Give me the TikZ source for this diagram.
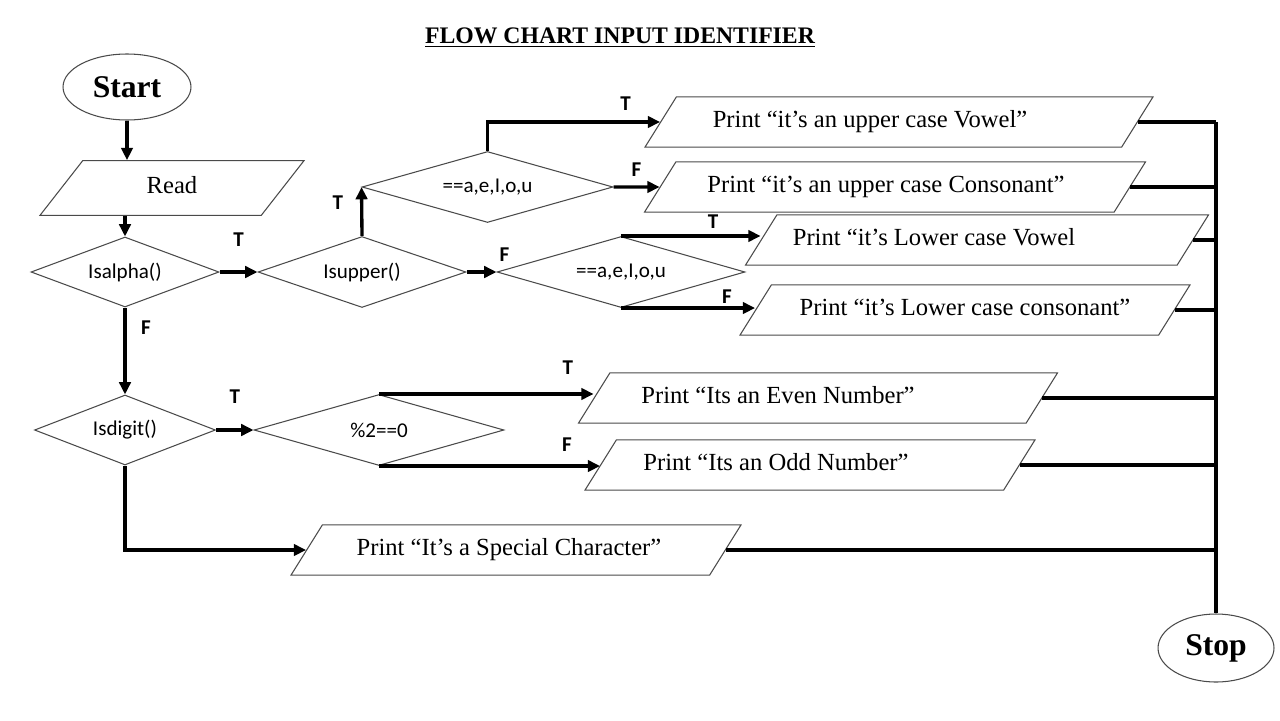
\documentclass[tikz,border=0pt]{standalone}
\usepackage{fontspec}
\setmainfont{Liberation Serif}
\setsansfont{Carlito}
\usetikzlibrary{shapes.geometric, arrows.meta, positioning, calc}
\usepackage{xcolor}
\definecolor{Ink}{HTML}{000000}
\definecolor{Edge}{HTML}{4A4A4A}
% room to the right of a print text, so the text sits left of centre
\newcommand{\padr}[1]{\hspace*{#1}}

\begin{document}
\begin{tikzpicture}[
            x=0.02cm, y=-0.02cm,
            term/.style={ellipse, draw=Edge, line width=0.6pt, inner sep=0pt, font=\bfseries\fontsize{18}{20}\selectfont, text=Ink},
            iobox/.style={trapezium, trapezium left angle=58, trapezium right angle=122, trapezium stretches body, draw=Edge, line width=0.6pt, inner xsep=2pt, inner ysep=7.5pt, text height=10pt, text depth=3.5pt, font=\fontsize{14}{16}\selectfont, text=Ink},
            test/.style={diamond, aspect=3, draw=Edge, line width=0.6pt, inner sep=0pt, font=\sffamily\fontsize{12}{14}\selectfont, text=Ink},
            lbl/.style={font=\sffamily\bfseries\fontsize{12}{14}\selectfont, text=Ink},
            link/.style={line width=1.9pt, color=Ink},
            arrow/.style={link, -{Triangle[length=7pt, width=6.5pt]}}
        ]
            \useasboundingbox (0,0) rectangle (1280,720);
            \node[font=\bfseries\fontsize{13.5}{15}\selectfont] (title) at (620,38) {\underline{FLOW CHART INPUT IDENTIFIER}};

            % start, read and the two top level tests
            \node[term, minimum width=2.56cm, minimum height=1.32cm] (start) at (127,87) {Start};
            \node[iobox, trapezium left angle=52, trapezium right angle=128, inner ysep=8.8pt, minimum width=5.28cm] (read) at (172,188) {Read};
            \node[test, minimum width=3.76cm, minimum height=1.4cm] (isalpha) at (125,272) {Isalpha()};
            \node[test, minimum width=3.62cm, minimum height=1.4cm] (isdigit) at (125,430) {Isdigit()};

            % letter branch
            \node[test, minimum width=4.16cm, minimum height=1.42cm] (isupper) at (362,272) {Isupper()};
            \node[test, minimum width=5.02cm, minimum height=1.42cm] (upvowel) at (487.5,187) {==a,e,I,o,u};
            \node[test, minimum width=4.96cm, minimum height=1.42cm] (lowvowel) at (621,272) {==a,e,I,o,u};
            \node[iobox, minimum width=10.16cm] (pupvow) at (899,122) {Print “it’s an upper case Vowel”\padr{1.16cm}};
            \node[iobox, minimum width=10.02cm] (pupcon) at (895,187) {Print “it’s an upper case Consonant”\padr{0.36cm}};
            \node[iobox, minimum width=9.26cm] (plowvow) at (977,240) {Print “it’s Lower case Vowel\padr{1.72cm}};
            \node[iobox, minimum width=9.0cm] (plowcon) at (965,310) {Print “it’s Lower case consonant”};

            % digit branch
            \node[test, minimum width=5.0cm, minimum height=1.42cm] (parity) at (379,430) {\%2==0};
            \node[iobox, minimum width=9.58cm] (peven) at (818,398) {Print “Its an Even Number”\padr{1.6cm}};
            \node[iobox, minimum width=9.0cm] (podd) at (810,465) {Print “Its an Odd Number”\padr{1.36cm}};
            \node[iobox, minimum width=9.0cm] (pspecial) at (516,550) {Print “It’s a Special Character”\padr{0.28cm}};

            \node[term, minimum width=2.32cm, minimum height=1.36cm] (stop) at (1216,648) {Stop};
            \coordinate (bus) at (1216,0);

            \draw[arrow] (start.south) -- (start.south |- read.north);
            \draw[arrow] (isalpha.north |- read.south) -- (isalpha.north);
            \draw[arrow] (isalpha.east) -- node[lbl, midway, yshift=0.64cm]{T} (isupper.west);
            \draw[arrow] (isalpha.south) -- node[lbl, pos=0.23, xshift=0.42cm]{F} (isdigit.north);
            \draw[arrow] (isupper.north) -- node[lbl, midway, xshift=-0.48cm, yshift=0.18cm]{T} (upvowel.west);
            \draw[arrow] (isupper.east) -- node[lbl, pos=1, xshift=0.16cm, yshift=0.34cm]{F} (lowvowel.west);
            \draw[arrow] (upvowel.north) |- node[lbl, pos=0.9, yshift=0.36cm]{T} (pupvow.west);
            \draw[arrow] (upvowel.east) -- node[lbl, midway, yshift=0.34cm]{F} (pupcon.west);
            \draw[arrow] (lowvowel.north) -- node[lbl, pos=0.66, yshift=0.28cm]{T} (lowvowel.north -| plowvow.west);
            \draw[arrow] (lowvowel.south) -- node[lbl, pos=0.79, yshift=0.22cm]{F} (lowvowel.south -| plowcon.west);
            \draw[arrow] (isdigit.east) -- node[lbl, midway, yshift=0.66cm]{T} (parity.west);
            \draw[arrow] (parity.north) -- node[lbl, pos=0.88, yshift=0.52cm]{T} (parity.north -| peven.west);
            \draw[arrow] (parity.south) -- node[lbl, pos=0.85, yshift=0.42cm]{F} (parity.south -| podd.west);
            \draw[arrow] (isdigit.south) |- (pspecial.west);

            % outputs join the bus to stop
            \foreach \p in {pupvow, pupcon, plowvow, plowcon, peven, podd, pspecial}
                \draw[link] (\p.east) -- (\p.east -| bus);
            \draw[link] (pupvow.east -| bus) -- (stop.north);
        \end{tikzpicture}
\end{document}
